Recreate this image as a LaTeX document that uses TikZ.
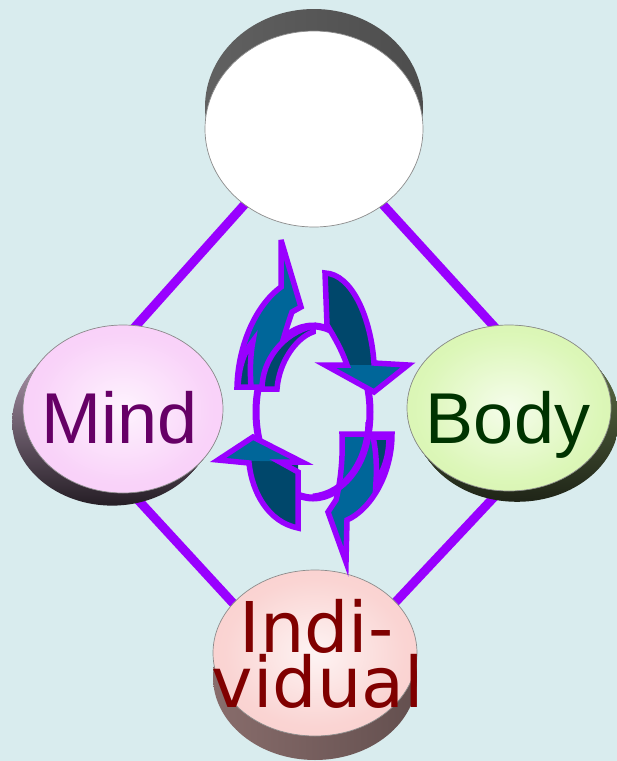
\documentclass[tikz,border=0pt]{standalone}
\usepackage{fontspec}
\newfontfamily\arialf{Liberation Sans}
\newfontfamily\dejaf{DejaVu Sans}
\usetikzlibrary{shapes.geometric}
\definecolor{bgc}{HTML}{D9ECEE}
\definecolor{lnc}{HTML}{9900FF}
\definecolor{tealL}{HTML}{006699}
\definecolor{tealD}{HTML}{00476B}
\definecolor{mindc}{HTML}{660066}
\definecolor{bodyc}{HTML}{003300}
\definecolor{indc}{HTML}{800000}
\definecolor{mindE}{HTML}{F7C4F7}
\definecolor{bodyE}{HTML}{CDF39A}
\definecolor{indE}{HTML}{F8C6C4}
\pgfdeclareradialshading{mindface}{\pgfpoint{0bp}{0bp}}{color(0bp)=(mindE!20!white); color(22bp)=(mindE!75!white); color(50bp)=(mindE)}
\pgfdeclareradialshading{bodyface}{\pgfpoint{0bp}{0bp}}{color(0bp)=(bodyE!20!white); color(22bp)=(bodyE!70!white); color(50bp)=(bodyE)}
\pgfdeclareradialshading{indface}{\pgfpoint{0bp}{0bp}}{color(0bp)=(indE!20!white); color(22bp)=(indE!75!white); color(50bp)=(indE)}
\tikzset{
  face/.style={ellipse, draw=black!45, line width=0.7pt, inner sep=0pt},
  conn/.style={draw=lnc, line width=9pt},
  arrowpart/.style={draw=lnc, line width=5.5pt, line join=miter, miter limit=6},
  disktext/.style={inner sep=0pt, anchor=base},
}
\begin{document}
\begin{tikzpicture}[x=1pt,y=-1pt]
\useasboundingbox (0,0) rectangle (617,761);
\fill[bgc] (0,0) rectangle (617,761);

% diamond corners
\coordinate (dT) at (313,128);
\coordinate (dL) at (58,413);
\coordinate (dB) at (313,690);
\coordinate (dR) at (573,413);
\draw[conn] (dT) -- (dL);
\draw[conn] (dT) -- (dR);
\draw[conn] (dL) -- (dB);
\draw[conn] (dR) -- (dB);

% top disk
\shade[left color=black!62, middle color=black!92, right color=black!70] (314,107) ellipse [x radius=109, y radius=98];
\node[face, fill=white, minimum width=218pt, minimum height=196pt] (top) at (314,129) {};

% Mind disk
\foreach \t in {0,0.1,...,1.0}
  \shade[top color=mindE!65!black!70, bottom color=black!85!mindE] ({123-12*\t},{409+14*\t}) ellipse [x radius=100, y radius=84];
\node[face, shading=mindface, minimum width=200pt, minimum height=168pt] (mind) at (123,409) {};
\node[disktext, text=mindc, font=\arialf\fontsize{72}{72}\selectfont] (mindtxt) at (120,443) {Mind};

% Body disk
\foreach \t in {0,0.1,...,1.0}
  \shade[top color=bodyE!50!black, bottom color=black!85!bodyE] ({509+9*\t},{408+12*\t}) ellipse [x radius=102, y radius=83];
\node[face, shading=bodyface, minimum width=204pt, minimum height=166pt] (body) at (509,408) {};
\node[disktext, text=bodyc, font=\arialf\fontsize{72}{72}\selectfont] (bodytxt) at (508,443) {Body};

% Individual disk
\shade[left color=indE!55!black, middle color=black!88!indE, right color=indE!40!black] (315,677) ellipse [x radius=102, y radius=83];
\node[face, shading=indface, minimum width=204pt, minimum height=166pt] (ind) at (315,653) {};
\node[disktext, text=indc, font=\dejaf\fontsize{70}{70}\selectfont] (indtxt1) at (316.5,652) {Indi-};
\node[disktext, text=indc, font=\dejaf\fontsize{70}{70}\selectfont] (indtxt2) at (318,707) {vidual};

% central cycle
\draw[draw=lnc, line width=7pt, fill=bgc] (313,412) ellipse [x radius=57, y radius=86];
% A1 (top-left, up)
\draw[arrowpart, fill=tealL] (281,240) -- (301,307) -- (292,312) .. controls (283,338) and (276,362) .. (275,387) -- (237,387) .. controls (238,345) and (256,305) .. (281,287) -- cycle;
\draw[arrowpart, fill=tealD] (238,387) .. controls (239,366) and (244,352) .. (253,341) .. controls (250,356) and (250,372) .. (251,387) -- cycle;
% A2 (top-right, down)
\fill[tealD] (325,273) .. controls (352,274) and (371,318) .. (374,363) -- (374,368) -- (347,368) -- (347,365) .. controls (341,348) and (333,335) .. (327,325) -- cycle;
\fill[tealL] (325,365) -- (408,365) -- (374,392) -- cycle;
\draw[arrowpart] (325,273) .. controls (352,274) and (371,318) .. (374,363) -- (408,365) -- (374,392) -- (325,365) -- (347,365) .. controls (341,348) and (333,335) .. (327,325) -- cycle;
% A3 (bottom-left, up)
\fill[tealD] (298,528) -- (298,459) -- (249,459) -- (249,463) .. controls (252,492) and (268,522) .. (298,528) -- cycle;
\fill[tealL] (218,460) -- (302,462) -- (253,437) -- cycle;
\draw[arrowpart] (298,528) -- (298,472) -- (280,462) -- (302,462) -- (253,437) -- (218,460) -- (249,463) .. controls (252,492) and (268,522) .. (298,528) -- cycle;
% A4 (bottom-right, down)
\draw[arrowpart, fill=tealL] (346,562) -- (328,512) -- (336,500) .. controls (341,480) and (343,455) .. (342,434) -- (392,434) .. controls (392,475) and (370,510) .. (347,520) -- cycle;
\draw[arrowpart, fill=tealD] (373,437) -- (389,437) .. controls (389,456) and (384,470) .. (376,482) .. controls (377,466) and (376,450) .. (373,437) -- cycle;
% ring band crossing the upper-left arrow
\draw[arrowpart, fill=tealD] (262,389) .. controls (262,360) and (283,333) .. (313,326) -- (313,332) .. controls (296,338) and (279,362) .. (277,389) -- cycle;
% ring border crossing the lower-right arrow
\draw[draw=lnc, line width=7pt] (369,422) .. controls (368,462) and (345,494) .. (313,497);
\end{tikzpicture}
\end{document}
